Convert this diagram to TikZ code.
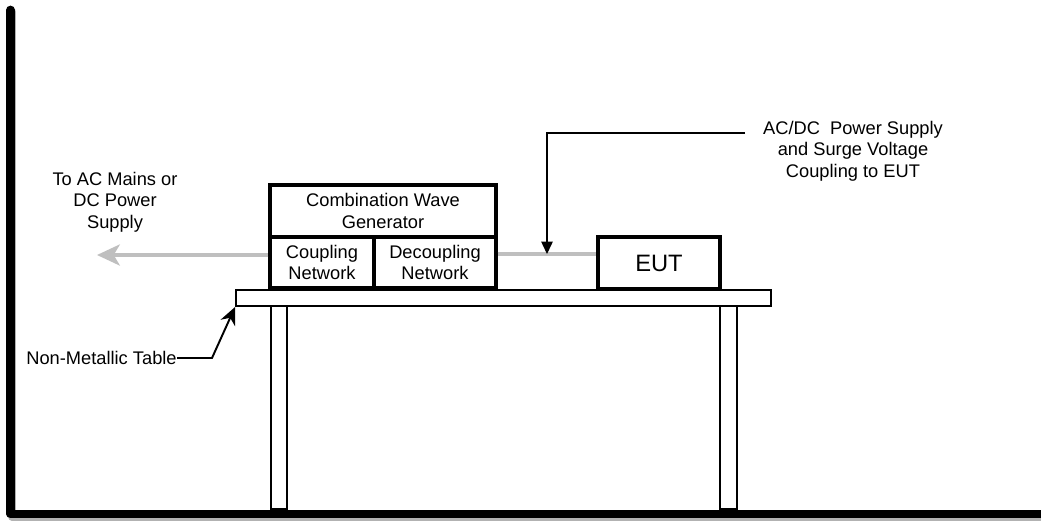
\documentclass[tikz,border=0pt]{standalone}
\usepackage{fontspec}
\setmainfont{Liberation Sans}
\usetikzlibrary{arrows.meta}

\begin{document}
\begin{tikzpicture}
    [%%%%%%%%%%%%%%%%%%%%%%%%%%%%%%
        x=0.02cm, y=-0.02cm,
        box/.style={rectangle,draw=black,line width=1.9pt,inner sep=0pt,align=center,font=\fontsize{10.4}{12.2}\selectfont},
        board/.style={rectangle,draw=black,line width=1.1pt,inner sep=0pt},
        note/.style={align=center,inner sep=0pt,font=\fontsize{10.4}{12.2}\selectfont},
        feed/.style={draw=black!25,line width=2pt},
        callout/.style={draw=black,line width=0.6pt},
        wall/.style={draw=black,line width=5pt,line cap=round,line join=round},
    ]%%%%%%%%%%%%%%%%%%%%%%%%%%%%%%
\useasboundingbox (0,0) rectangle (1041,521);
% wall and floor
\draw[wall,draw=black!30] (12,12) -- (12,516.5) -- (1050,516.5);
\draw[wall] (10.5,10) -- (10.5,514) -- (1050,514);

% table
\node[board, minimum width=10.7cm, minimum height=0.32cm] (top) at (503.5,298) {};
\node[board, minimum width=0.32cm, minimum height=4.06cm] (legL) at (279,407.5) {};
\node[board, minimum width=0.34cm, minimum height=4.06cm] (legR) at (728.5,407.5) {};

% generator and EUT
\node[box, minimum width=4.52cm, minimum height=1.04cm] (cwg) at (383,211) {Combination Wave\\Generator};
\node[box, minimum width=2.08cm, minimum height=1.02cm] (cpl) at (322,262.5) {Coupling\\Network};
\node[box, minimum width=2.44cm, minimum height=1.02cm] (dcpl) at (435,262.5) {Decoupling\\Network};
\node[box, minimum width=2.44cm, minimum height=1.04cm, font=\fontsize{13.5}{15}\selectfont] (eut) at (659,263) {EUT};

% supply line
\coordinate (mains) at (97,255);
\coordinate (lead) at (547,254);
\draw[feed,-{Stealth[length=13pt,width=12pt,inset=3.5pt]}] (cpl.west |- mains) -- (mains);
\draw[feed] (dcpl.east |- lead) -- (eut.west |- lead);

% labels
\node[note] (mainsnote) at (115,202) {To AC Mains or\\DC Power\\Supply};
\node[note, inner xsep=10pt] (surgenote) at (853,151) {AC/DC\ \ Power Supply\\and Surge Voltage\\Coupling to EUT};
\coordinate (bend) at (547,133);
\draw[callout,-{Triangle[length=7pt,width=6.5pt]}] (surgenote.west |- bend) -- (bend) -- (lead);

\node[note, anchor=east] (tablenote) at (177,358) {Non-Metallic Table};
\coordinate (knee) at (212,358);
\draw[line width=1.1pt,-{Stealth[length=10pt,width=9pt]}] (tablenote.east) -- (knee) -- (top.south west);
\end{tikzpicture}
\end{document}
